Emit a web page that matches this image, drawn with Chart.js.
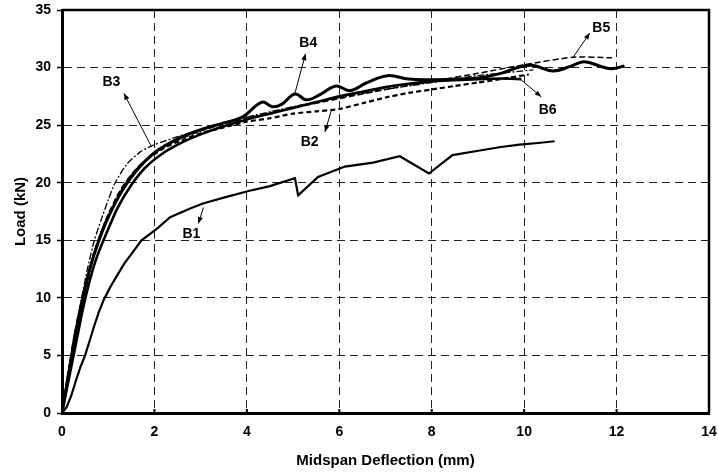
<!DOCTYPE html>
<html>
<head>
<meta charset="utf-8">
<script src="https://cdn.jsdelivr.net/npm/chart.js@4/dist/chart.umd.min.js"></script>
<style>
html,body{margin:0;padding:0;background:#fff;}
#wrap{width:718px;height:476px;position:relative;}
</style>
</head>
<body>
<div id="wrap"><canvas id="c" width="718" height="476"></canvas></div>
<script>
// ---- data (x = midspan deflection mm, y = load kN) ----
const seriesNames = ["B1","B2","B3","B4","B5","B6"];
const xTicks = [0,2,4,6,8,10,12,14];
const yTicks = [0,5,10,15,20,25,30,35];

const b1 = [[0,0],[0.1,0.5],[0.2,1.5],[0.3,2.8],[0.4,4],[0.5,5],[0.6,6.3],[0.7,7.6],[0.8,8.8],[0.9,9.8],[1.04,10.9],[1.2,12],[1.35,13],[1.5,13.8],[1.72,15],[2.05,16.0],[2.34,17.0],[2.51,17.3],[2.8,17.8],[3.05,18.2],[3.5,18.7],[4.06,19.3],[4.5,19.7],[5.04,20.4],[5.11,18.9],[5.54,20.5],[6.12,21.4],[6.73,21.75],[7.31,22.3],[7.94,20.8],[8.45,22.4],[9.04,22.8],[9.5,23.1],[9.9,23.3],[10.3,23.45],[10.66,23.6]];
const b2 = [[0,0],[0.1,2.5],[0.25,6],[0.4,9],[0.55,11.5],[0.7,14],[0.9,16.2],[1.2,18.8],[1.5,20.6],[1.8,21.9],[2.2,23.0],[2.6,23.7],[3.0,24.3],[3.5,24.8],[4.0,25.3],[4.5,25.6],[5.0,26.0],[5.5,26.2],[6.0,26.4],[6.5,26.9],[7.0,27.4],[7.5,27.8],[8.0,28.1],[8.5,28.4],[9.0,28.7],[9.5,29.0],[10.1,29.4]];
const b3 = [[0,0],[0.1,2.5],[0.25,6.5],[0.4,9.5],[0.55,12.5],[0.7,15],[0.85,16.8],[1.0,18.5],[1.15,20],[1.4,21.6],[1.7,22.7],[2.0,23.3],[2.5,24.0],[3.0,24.6],[3.5,25.2],[4.0,25.7],[5.0,26.6],[6.0,27.4],[7.0,28.1],[8.0,28.7],[9.0,29.3],[10.2,29.8]];
const b4 = [[0,0],[0.15,3.5],[0.3,7],[0.45,10],[0.6,12.5],[0.8,15],[1.0,17],[1.3,19.3],[1.6,21],[2.0,22.6],[2.5,23.8],[3.0,24.6],[3.5,25.2],[3.9,25.7],[4.33,27.0],[4.55,26.6],[4.75,26.8],[5.04,27.7],[5.29,27.2],[5.6,27.7],[5.93,28.4],[6.23,28.0],[6.6,28.7],[7.05,29.3],[7.5,29.0],[8.0,28.95],[8.5,29.0],[9.0,29.1],[9.5,29.5],[9.9,30.05],[10.18,30.2],[10.62,29.7],[11.0,30.1],[11.3,30.5],[11.7,30.05],[11.9,29.9],[12.17,30.15]];
const b5 = [[0,0],[0.1,2.8],[0.3,7.5],[0.5,11],[0.7,14],[0.95,16.8],[1.25,19.3],[1.6,21.2],[2.0,22.6],[2.5,23.7],[3.0,24.5],[3.5,25.1],[4.0,25.6],[5.0,26.5],[6.0,27.3],[7.0,28.1],[8.0,28.8],[9.0,29.5],[10.0,30.25],[11.06,30.9],[11.9,30.85]];
const b6 = [[0,0],[0.15,3],[0.3,6],[0.45,9],[0.6,11.5],[0.75,13.5],[0.95,15.5],[1.2,17.8],[1.5,19.8],[1.8,21.3],[2.2,22.6],[2.6,23.5],[3.0,24.2],[3.5,24.9],[4.0,25.5],[4.5,26.0],[5.0,26.5],[5.5,27.0],[6.0,27.5],[6.5,27.9],[7.0,28.3],[7.5,28.6],[8.0,28.8],[8.5,28.9],[9.0,29.0],[9.5,29.05],[9.94,29.0]];

// annotation labels
const labelText = ["B1","B2","B3","B4","B5","B6"];
const labelAt   = [[2.8,15.5],[5.36,23.55],[1.07,28.7],[5.33,32.1],[11.67,33.4],[10.51,26.3]];
const arrowFrom = [[3.06,17.84],[5.83,26.3],[1.94,23.1],[5.04,27.76],[11.06,30.9],[9.9,29.05]];
const arrowTo   = [[2.95,16.45],[5.69,24.4],[1.34,27.76],[5.27,31.2],[11.42,33.0],[10.37,27.46]];

const toPts = a => a.map(p => ({x:p[0], y:p[1]}));
const FONT = "'Liberation Sans', Arial, Helvetica, sans-serif";

const annotPlugin = {
  id: 'annot',
  afterDraw(chart) {
    const {ctx, chartArea:ca, scales:{x, y}} = chart;
    ctx.save();
    ctx.strokeStyle = '#000';
    ctx.lineWidth = 2.5;
    ctx.beginPath();
    ctx.moveTo(ca.left, ca.top);
    ctx.lineTo(ca.right, ca.top);
    ctx.lineTo(ca.right, ca.bottom);
    ctx.stroke();
    ctx.lineWidth = 2;
    xTicks.forEach(v => {
      const px = x.getPixelForValue(v);
      ctx.beginPath(); ctx.moveTo(px, ca.bottom); ctx.lineTo(px, ca.bottom - 4); ctx.stroke();
    });
    ctx.lineWidth = 1;
    ctx.fillStyle = '#000';
    for (let i = 0; i < labelText.length; i++) {
      const x1 = x.getPixelForValue(arrowFrom[i][0]), y1 = y.getPixelForValue(arrowFrom[i][1]);
      const x2 = x.getPixelForValue(arrowTo[i][0]), y2 = y.getPixelForValue(arrowTo[i][1]);
      ctx.beginPath(); ctx.moveTo(x1, y1); ctx.lineTo(x2, y2); ctx.stroke();
      const ang = Math.atan2(y2 - y1, x2 - x1);
      const L = 7, W = 0.38;
      ctx.beginPath();
      ctx.moveTo(x2, y2);
      ctx.lineTo(x2 - L*Math.cos(ang - W), y2 - L*Math.sin(ang - W));
      ctx.lineTo(x2 - L*Math.cos(ang + W), y2 - L*Math.sin(ang + W));
      ctx.closePath(); ctx.fill();
      ctx.font = 'bold 14px ' + FONT;
      ctx.textAlign = 'center'; ctx.textBaseline = 'middle';
      ctx.fillText(labelText[i], x.getPixelForValue(labelAt[i][0]), y.getPixelForValue(labelAt[i][1]));
    }
    ctx.restore();
  }
};

const common = {showLine:true, pointRadius:0, borderColor:'#000', backgroundColor:'#000', fill:false};

new Chart(document.getElementById('c'), {
  type: 'scatter',
  data: {
    datasets: [
      {...common, label:seriesNames[0], data:toPts(b1), borderWidth:2.2, tension:0},
      {...common, label:seriesNames[1], data:toPts(b2), borderWidth:2.2, borderDash:[5,3], tension:0.2},
      {...common, label:seriesNames[2], data:toPts(b3), borderWidth:1.3, borderDash:[7,2,2,2], tension:0.2},
      {...common, label:seriesNames[3], data:toPts(b4), borderWidth:3, tension:0.4},
      {...common, label:seriesNames[4], data:toPts(b5), borderWidth:1.5, borderDash:[6,3], tension:0.2},
      {...common, label:seriesNames[5], data:toPts(b6), borderWidth:2.6, tension:0.2}
    ]
  },
  options: {
    responsive:false,
    animation:false,
    events:[],
    layout:{padding:{top:10, right:9, left:0, bottom:0}},
    plugins:{legend:{display:false}, tooltip:{enabled:false}},
    scales:{
      x:{
        type:'linear', min:0, max:14,
        afterBuildTicks: s => { s.ticks = xTicks.map(v => ({value:v})); },
        afterFit: s => { s.height = 63; s.paddingLeft = 0; s.paddingRight = 0; },
        ticks:{color:'#000', padding:11, font:{family:FONT, size:14, weight:'bold'}, maxRotation:0},
        grid:{color:'#222', lineWidth:1, drawTicks:false},
        border:{display:true, color:'#000', width:3, dash:[8,5]},
        title:{display:true, text:'Midspan Deflection (mm)', color:'#000', padding:{top:4,bottom:6}, font:{family:FONT, size:15, weight:'bold'}}
      },
      y:{
        type:'linear', min:0, max:35,
        afterBuildTicks: s => { s.ticks = yTicks.map(v => ({value:v})); },
        afterFit: s => { s.width = 62; s.paddingTop = 0; s.paddingBottom = 0; },
        ticks:{color:'#000', padding:6, font:{family:FONT, size:14, weight:'bold'}},
        grid:{color:'#222', lineWidth:1, drawTicks:true, tickLength:5, tickColor:'#000', tickWidth:1.5, tickBorderDash:[]},
        border:{display:true, color:'#000', width:3, dash:[8,5]},
        title:{display:true, text:'Load (kN)', color:'#000', padding:{top:12,bottom:0}, font:{family:FONT, size:15, weight:'bold'}}
      }
    }
  },
  plugins:[annotPlugin]
});
</script>
</body>
</html>
